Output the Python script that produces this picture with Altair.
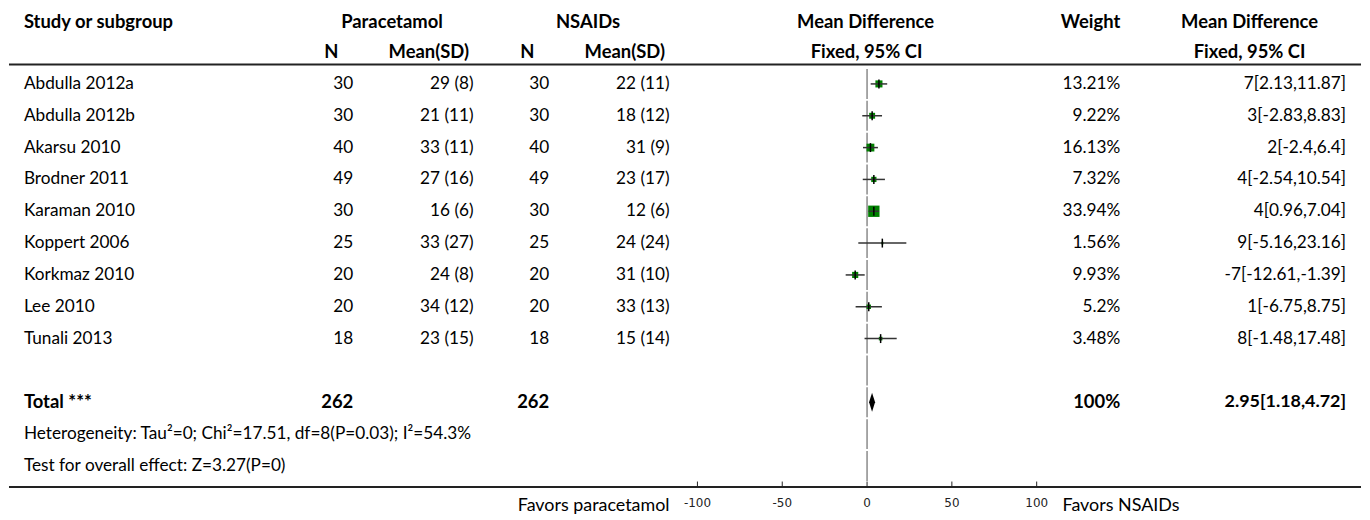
import altair as alt
import pandas as pd

# ---------------- data ----------------
studies = ["Abdulla 2012a", "Abdulla 2012b", "Akarsu 2010", "Brodner 2011", "Karaman 2010",
           "Koppert 2006", "Korkmaz 2010", "Lee 2010", "Tunali 2013"]
para_n = [30, 30, 40, 49, 30, 25, 20, 20, 18]
para_mean = [29, 21, 33, 27, 16, 33, 24, 34, 23]
para_sd = [8, 11, 11, 16, 6, 27, 8, 12, 15]
nsaid_n = [30, 30, 40, 49, 30, 25, 20, 20, 18]
nsaid_mean = [22, 18, 31, 23, 12, 24, 31, 33, 15]
nsaid_sd = [11, 12, 9, 17, 6, 24, 10, 13, 14]
weights = [13.21, 9.22, 16.13, 7.32, 33.94, 1.56, 9.93, 5.2, 3.48]
mean_diff = [7, 3, 2, 4, 4, 9, -7, 1, 8]
ci_low = [2.13, -2.83, -2.4, -2.54, 0.96, -5.16, -12.61, -6.75, -1.48]
ci_high = [11.87, 8.83, 6.4, 10.54, 7.04, 23.16, -1.39, 8.75, 17.48]

total_label = "Total ***"
total_para_n = 262
total_nsaid_n = 262
total_weight = 100
total_md = 2.95
total_low = 1.18
total_high = 4.72
heterogeneity = "Heterogeneity: Tau\u00b2=0; Chi\u00b2=17.51, df=8(P=0.03); I\u00b2=54.3%"
overall_effect = "Test for overall effect: Z=3.27(P=0)"
x_ticks = [-100, -50, 0, 50, 100]
left_label = "Favors paracetamol"
right_label = "Favors NSAIDs"

# ---------------- styling ----------------
FONT = "Lato"
FS = 17.3
FSB = 18.5
TXT = "#000000"
W, H = 1354, 504
xscale = alt.Scale(domain=[-100, 100], range=[691, 1032])
yscale = alt.Scale(domain=[-2, 13], range=[11, 491])
Y = alt.Y("row:Q", scale=yscale, axis=None)

n = len(studies)
rows = pd.DataFrame({
    "row": list(range(n)),
    "study": studies,
    "pn": [str(v) for v in para_n],
    "pms": [f"{m} ({s})" for m, s in zip(para_mean, para_sd)],
    "nn": [str(v) for v in nsaid_n],
    "nms": [f"{m} ({s})" for m, s in zip(nsaid_mean, nsaid_sd)],
    "w": [f"{w:g}%" for w in weights],
    "ci": [f"{m:g}[{lo:g},{hi:g}]" for m, lo, hi in zip(mean_diff, ci_low, ci_high)],
    "weight": weights,
    "md": mean_diff,
    "lo": ci_low,
    "hi": ci_high,
})
rows["t0"] = rows["row"] - 0.14
rows["t1"] = rows["row"] + 0.14

total_row = n + 1
totals = pd.DataFrame({
    "row": [total_row],
    "label": [total_label],
    "pn": [str(total_para_n)],
    "nn": [str(total_nsaid_n)],
    "w": [f"{total_weight:g}%"],
    "ci": [f"{total_md:g}[{total_low:g},{total_high:g}]"],
})
footer = pd.DataFrame({"row": [total_row + 1, total_row + 2], "t": [heterogeneity, overall_effect]})


def col(df, field, xpix, align, bold=False, fs=FS):
    return alt.Chart(df).mark_text(
        align=align, baseline="middle", font=FONT, fontSize=fs,
        fontWeight="bold" if bold else "normal", color=TXT
    ).encode(x=alt.value(xpix), y=Y, text=f"{field}:N")


def head(text, xpix, ypix, align):
    return alt.Chart(pd.DataFrame({"t": [text]})).mark_text(
        align=align, baseline="middle", font=FONT, fontSize=FSB, fontWeight="bold", color=TXT
    ).encode(x=alt.value(xpix), y=alt.value(ypix), text="t:N")


layers = []
# headers
H1, H2 = 13, 43
layers += [
    head("Study or subgroup", 14, H1, "left"),
    head("Paracetamol", 384, H1, "center"),
    head("NSAIDs", 581, H1, "center"),
    head("Mean Difference", 860, H1, "center"),
    head("Weight", 1116, H1, "right"),
    head("Mean Difference", 1246, H1, "center"),
    head("N", 323, H2, "center"),
    head("Mean(SD)", 421, H2, "center"),
    head("N", 520, H2, "center"),
    head("Mean(SD)", 618, H2, "center"),
    head("Fixed, 95% CI", 861, H2, "center"),
    head("Fixed, 95% CI", 1246, H2, "center"),
]

# separator lines
sep = pd.DataFrame({"row": [-0.61, 12.66]})
layers.append(alt.Chart(sep).mark_rule(color="#222222", strokeWidth=2).encode(
    x=alt.value(-1), x2=alt.value(1358), y=Y))

# study text columns
layers += [
    col(rows, "study", 14, "left"),
    col(rows, "pn", 345, "right"),
    col(rows, "pms", 466, "right"),
    col(rows, "nn", 542, "right"),
    col(rows, "nms", 663, "right"),
    col(rows, "w", 1116, "right"),
    col(rows, "ci", 1343, "right"),
]
# totals
layers += [
    col(totals, "label", 14, "left", True, FSB),
    col(totals, "pn", 345, "right", True, FSB),
    col(totals, "nn", 542, "right", True, FSB),
    col(totals, "w", 1116, "right", True, FSB),
    col(totals, "ci", 1343, "right", True, 18),
]
layers.append(alt.Chart(footer).mark_text(
    align="left", baseline="middle", font=FONT, fontSize=FS, color=TXT
).encode(x=alt.value(14), y=Y, text="t:N"))

# zero line in per-row segments
zero_df = pd.DataFrame({"r": list(range(0, total_row + 3))})
zero_df["z"] = 0
zero_df["y0"] = zero_df["r"] - 0.47
zero_df["y1"] = zero_df["r"] + 0.47
layers.append(alt.Chart(zero_df).mark_rule(color="#8a8a8a", strokeWidth=1.5).encode(
    x=alt.X("z:Q", scale=xscale, axis=None),
    y=alt.Y("y0:Q", scale=yscale, axis=None),
    y2="y1:Q"))

# forest marks
layers.append(alt.Chart(rows).mark_square(color="#008000", opacity=1).encode(
    x=alt.X("md:Q", scale=xscale, axis=None), y=Y,
    size=alt.Size("weight:Q", scale=alt.Scale(domain=[0, 33.94], range=[0, 130]), legend=None)))
layers.append(alt.Chart(rows).mark_rule(color="#333333", strokeWidth=1.5).encode(
    x=alt.X("lo:Q", scale=xscale, axis=None), x2="hi:Q", y=Y))
layers.append(alt.Chart(rows).mark_rule(color="black", strokeWidth=1.5).encode(
    x=alt.X("md:Q", scale=xscale, axis=None),
    y=alt.Y("t0:Q", scale=yscale, axis=None), y2="t1:Q"))

# pooled diamond
dia = pd.DataFrame({
    "x": [total_low, total_md, total_high],
    "ya": [total_row, total_row - 0.3, total_row],
    "yb": [total_row, total_row + 0.3, total_row],
})
layers.append(alt.Chart(dia).mark_area(color="black", orient="vertical").encode(
    x=alt.X("x:Q", scale=xscale, axis=None),
    y=alt.Y("ya:Q", scale=yscale, axis=None), y2="yb:Q"))

# axis ticks + labels
tick_df = pd.DataFrame({"v": x_ticks})
tick_df["a"] = 12.49
tick_df["b"] = 12.66
tick_df["lab"] = tick_df["v"].astype(str)
tick_df["lr"] = 13.16
layers.append(alt.Chart(tick_df).mark_rule(color="#222222", strokeWidth=1).encode(
    x=alt.X("v:Q", scale=xscale, axis=None),
    y=alt.Y("a:Q", scale=yscale, axis=None), y2="b:Q"))
layers.append(alt.Chart(tick_df).mark_text(
    baseline="middle", align="center", font="DejaVu Sans", fontSize=12, color="#222222"
).encode(x=alt.X("v:Q", scale=xscale, axis=None),
         y=alt.Y("lr:Q", scale=yscale, axis=None), text="lab:N"))

fav = pd.DataFrame({"t": [left_label], "row": [13.25]})
layers.append(alt.Chart(fav).mark_text(
    align="right", baseline="middle", font=FONT, fontSize=18, color=TXT
).encode(x=alt.value(663), y=Y, text="t:N"))
fav2 = pd.DataFrame({"t": [right_label], "row": [13.25]})
layers.append(alt.Chart(fav2).mark_text(
    align="left", baseline="middle", font=FONT, fontSize=18, color=TXT
).encode(x=alt.value(1058), y=Y, text="t:N"))

chart = alt.layer(*layers).properties(
    width=W, height=H, padding=0
).configure_view(stroke=None)

chart.save("out.html", embed_options={"renderer": "svg", "actions": False})
